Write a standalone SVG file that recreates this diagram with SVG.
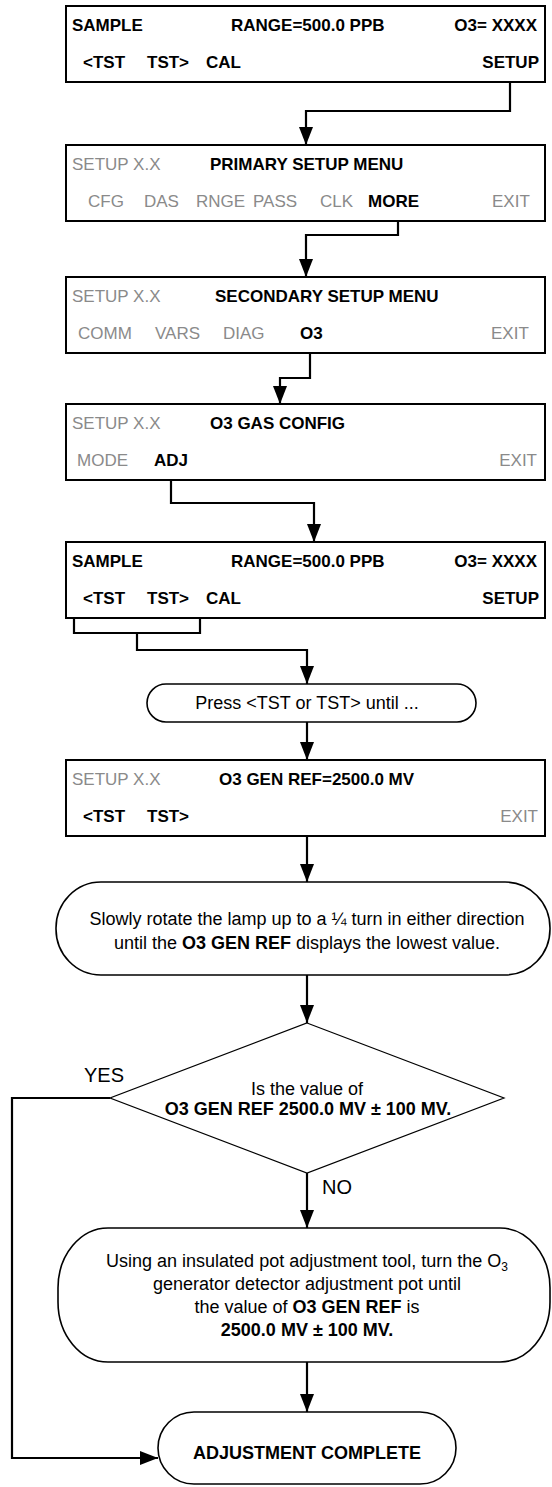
<svg xmlns="http://www.w3.org/2000/svg" width="552" height="1487" viewBox="0 0 552 1487">
<style>
.scr{fill:#fff;stroke:#000;stroke-width:2}
.t{font-family:"Liberation Sans",Arial,sans-serif;font-size:17px}
.b{font-weight:bold;fill:#000}
.g{fill:#8a8a8a}
.f{font-family:"Liberation Sans",Arial,sans-serif;font-size:18px;fill:#000}
.term{fill:#fff;stroke:#000;stroke-width:1.6}
.con{fill:none;stroke:#000;stroke-width:2.2}
.thin{fill:#fff;stroke:#000;stroke-width:1.2}
</style>
<defs>
<marker id="ah" markerUnits="userSpaceOnUse" markerWidth="18" markerHeight="14" refX="18" refY="7" orient="auto">
<path d="M0,0 L18,7 L0,14 z" fill="#000"/>
</marker>
</defs>
<rect width="552" height="1487" fill="#fff"/>

<g id="connectors">
<path class="con" d="M510,83 V111 H306 V145" marker-end="url(#ah)"/>
<path class="con" d="M398,221 V235 H306 V277" marker-end="url(#ah)"/>
<path class="con" d="M310,353 V378 H280 V404" marker-end="url(#ah)"/>
<path class="con" d="M171,480 V503 H314 V542" marker-end="url(#ah)"/>
<path class="con" d="M74,590 V633 H200 V590"/>
<path class="con" d="M137,633 V650 H307 V684" marker-end="url(#ah)"/>
<path class="con" d="M307,722 V760" marker-end="url(#ah)"/>
<path class="con" d="M307,836 V882" marker-end="url(#ah)"/>
<path class="con" d="M307,975 V1023" marker-end="url(#ah)"/>
<path class="con" d="M307,1173 V1228" marker-end="url(#ah)"/>
<path class="con" d="M307,1362 V1412" marker-end="url(#ah)"/>
<path class="con" d="M110,1098 H12 V1458 H158" marker-end="url(#ah)"/>
<text class="f" x="84" y="1082" style="font-size:20px">YES</text>
<text class="f" x="322" y="1194" style="font-size:20px">NO</text>
</g>

<g id="screen1">
<rect class="scr" x="66" y="6" width="479" height="76"/>
<text class="t b" x="72" y="31">SAMPLE</text>
<text class="t b" x="231" y="31">RANGE=500.0 PPB</text>
<text class="t b" x="537" y="31" text-anchor="end">O3= XXXX</text>
<text class="t b" x="83" y="68">&lt;TST</text>
<text class="t b" x="147" y="68">TST&gt;</text>
<text class="t b" x="206" y="68">CAL</text>
<text class="t b" x="539" y="68" text-anchor="end">SETUP</text>
</g>

<g id="screen2">
<rect class="scr" x="66" y="145" width="479" height="76"/>
<text class="t g" x="72" y="170">SETUP X.X</text>
<text class="t b" x="210" y="170">PRIMARY SETUP MENU</text>
<text class="t g" x="88" y="207">CFG</text>
<text class="t g" x="144" y="207">DAS</text>
<text class="t g" x="196" y="207">RNGE</text>
<text class="t g" x="253" y="207">PASS</text>
<text class="t g" x="320" y="207">CLK</text>
<text class="t b" x="368" y="207">MORE</text>
<text class="t g" x="492" y="207">EXIT</text>
</g>

<g id="screen3">
<rect class="scr" x="66" y="277" width="479" height="76"/>
<text class="t g" x="72" y="302">SETUP X.X</text>
<text class="t b" x="215" y="302">SECONDARY SETUP MENU</text>
<text class="t g" x="78" y="339">COMM</text>
<text class="t g" x="155" y="339">VARS</text>
<text class="t g" x="223" y="339">DIAG</text>
<text class="t b" x="300" y="339">O3</text>
<text class="t g" x="491" y="339">EXIT</text>
</g>

<g id="screen4">
<rect class="scr" x="66" y="404" width="479" height="76"/>
<text class="t g" x="72" y="429">SETUP X.X</text>
<text class="t b" x="210" y="429">O3 GAS CONFIG</text>
<text class="t g" x="77" y="466">MODE</text>
<text class="t b" x="154" y="466">ADJ</text>
<text class="t g" x="537" y="466" text-anchor="end">EXIT</text>
</g>

<g id="screen5">
<rect class="scr" x="66" y="542" width="479" height="76"/>
<text class="t b" x="72" y="567">SAMPLE</text>
<text class="t b" x="231" y="567">RANGE=500.0 PPB</text>
<text class="t b" x="537" y="567" text-anchor="end">O3= XXXX</text>
<text class="t b" x="83" y="604">&lt;TST</text>
<text class="t b" x="147" y="604">TST&gt;</text>
<text class="t b" x="206" y="604">CAL</text>
<text class="t b" x="539" y="604" text-anchor="end">SETUP</text>
</g>

<g id="press">
<rect class="term" x="147" y="684" width="329" height="38" rx="19" ry="19"/>
<text class="f" x="307" y="709" text-anchor="middle">Press &lt;TST or TST&gt; until ...</text>
</g>

<g id="screen6">
<rect class="scr" x="66" y="760" width="479" height="76"/>
<text class="t g" x="72" y="785">SETUP X.X</text>
<text class="t b" x="219" y="785">O3 GEN REF=2500.0 MV</text>
<text class="t b" x="83" y="822">&lt;TST</text>
<text class="t b" x="147" y="822">TST&gt;</text>
<text class="t g" x="538" y="822" text-anchor="end">EXIT</text>
</g>

<g id="rotate">
<rect class="term" x="56" y="882" width="494" height="93" rx="45" ry="46"/>
<text class="f" x="307" y="925" text-anchor="middle">Slowly rotate the lamp up to a ¼ turn in either direction</text>
<text class="f" x="307" y="949" text-anchor="middle">until the <tspan font-weight="bold">O3 GEN REF</tspan> displays the lowest value.</text>
</g>

<g id="decision">
<polygon class="thin" points="307,1023 504,1098 307,1173 110,1098"/>
<text class="f" x="307" y="1095" text-anchor="middle">Is the value of</text>
<text class="f" x="308" y="1115" text-anchor="middle" font-weight="bold">O3 GEN REF 2500.0 MV ± 100 MV.</text>
</g>

<g id="adjust">
<rect class="term" x="58" y="1228" width="492" height="134" rx="50" ry="60"/>
<text class="f" x="307" y="1267" text-anchor="middle">Using an insulated pot adjustment tool, turn the O<tspan font-size="12" dy="4">3</tspan></text>
<text class="f" x="307" y="1290" text-anchor="middle">generator detector adjustment pot until</text>
<text class="f" x="307" y="1313" text-anchor="middle">the value of <tspan font-weight="bold">O3 GEN REF</tspan> is</text>
<text class="f" x="307" y="1336" text-anchor="middle" font-weight="bold">2500.0 MV ± 100 MV.</text>
</g>

<g id="complete">
<rect class="term" x="158" y="1412" width="298" height="72" rx="36" ry="36"/>
<text class="f" x="307" y="1459" text-anchor="middle" font-weight="bold">ADJUSTMENT COMPLETE</text>
</g>
</svg>
